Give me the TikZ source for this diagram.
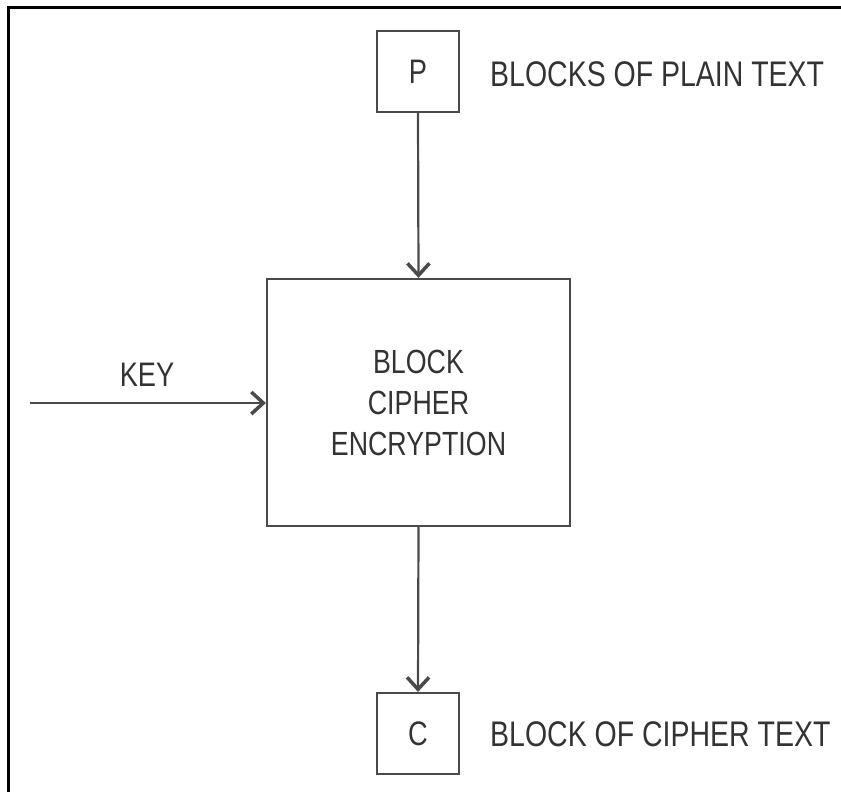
\documentclass[tikz,border=0pt]{standalone}
\usepackage{fontspec}
\setmainfont[FakeStretch=0.8]{Liberation Sans}
\usetikzlibrary{arrows.meta}
\definecolor{linec}{HTML}{4A4A4A}
\definecolor{textc}{HTML}{333333}
\tikzset{
  box/.style={draw=linec, line width=2.2pt, inner sep=0pt, text=textc},
  conn/.style={draw=linec, line width=2.2pt, -{Straight Barb[length=12pt,width=22pt,line width=3.5pt]}},
  lbl/.style={text=textc, inner sep=0pt, anchor=west, font=\fontsize{35.6}{40}\selectfont},
}
\begin{document}
\begin{tikzpicture}[x=1pt,y=-1pt]
\useasboundingbox (0,0) rectangle (841,792);
\draw[black, line width=3pt] (8.5,792) -- (8.5,7.5) -- (841,7.5);
\node[box, minimum width=82pt, minimum height=81pt, font=\fontsize{34}{36}\selectfont] (P) at (418,71.5) {P};
\node[box, minimum width=303pt, minimum height=247pt, align=center, font=\fontsize{33.5}{41}\selectfont] (M) at (418.5,402.5) {BLOCK\\CIPHER\\ENCRYPTION};
\node[box, minimum width=82pt, minimum height=81pt, font=\fontsize{34}{36}\selectfont] (C) at (418,733.5) {C};
\coordinate (K) at (30,403);
\node[text=textc, inner sep=0pt, font=\fontsize{34}{36}\selectfont] (KL) at (147,375) {KEY};
\node[lbl] (PL) at (490,74) {BLOCKS OF PLAIN TEXT};
\node[lbl] (CL) at (490,734) {BLOCK OF CIPHER TEXT};
\draw[conn] (P.south) -- (M.north);
\draw[conn] (K) -- (M.west |- K);
\draw[conn] (M.south) -- (C.north);
\end{tikzpicture}
\end{document}
